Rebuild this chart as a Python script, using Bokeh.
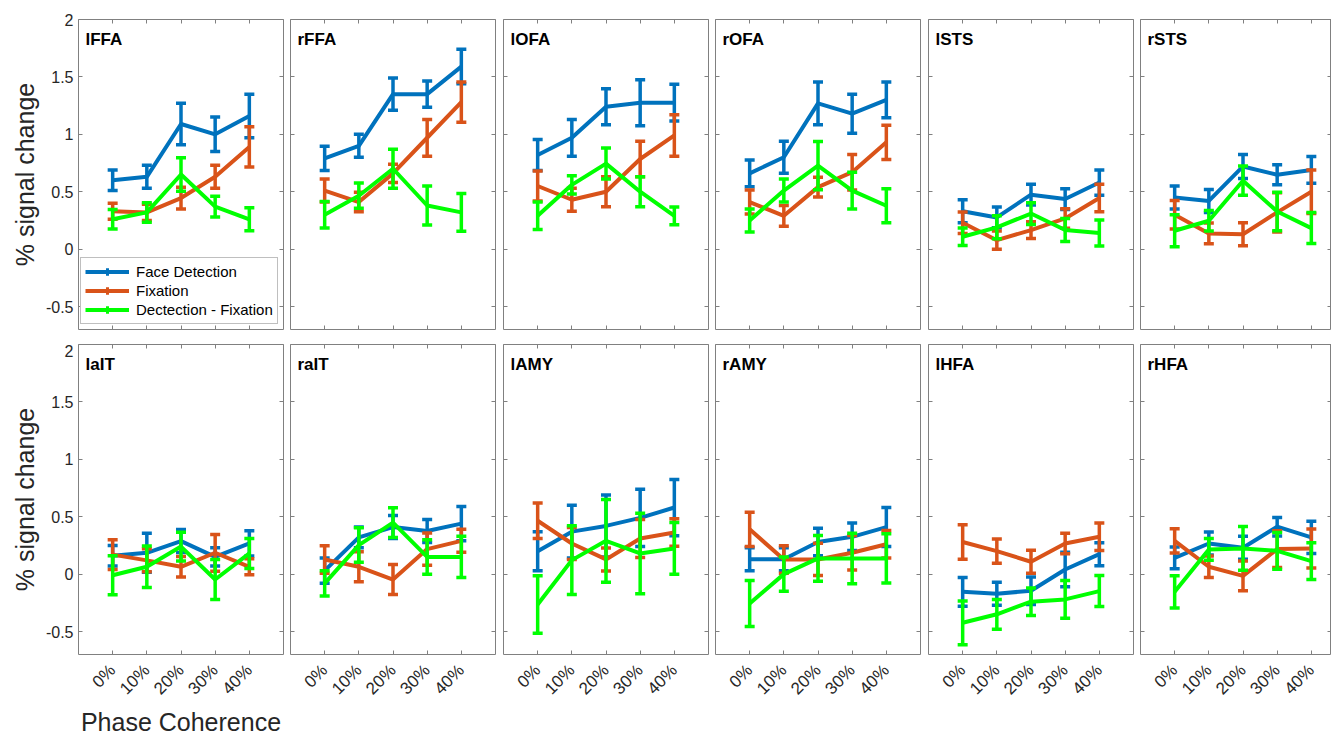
import math
import numpy as np
from bokeh.plotting import figure
from bokeh.layouts import row, column
from bokeh.models import (ColumnDataSource, Range1d, FixedTicker, Label, Legend,
                          LegendItem, LinearAxis)
from bokeh.embed import file_html
from bokeh.resources import INLINE

# ---------------- data ----------------
regions = ["lFFA", "rFFA", "lOFA", "rOFA", "lSTS", "rSTS",
           "laIT", "raIT", "lAMY", "rAMY", "lHFA", "rHFA"]
coherence = ["0%", "10%", "20%", "30%", "40%"]
coherence_pos = [1, 2, 3, 4, 5]
series_names = ["Face Detection", "Fixation", "Dectection - Fixation"]
ytick_vals = [-0.5, 0, 0.5, 1, 1.5, 2]
ytick_labels = ["-0.5", "0", "0.5", "1", "1.5", "2"]

face_mean = [
    [0.60, 0.63, 1.09, 1.00, 1.16],
    [0.79, 0.90, 1.35, 1.35, 1.59],
    [0.82, 0.97, 1.24, 1.275, 1.275],
    [0.66, 0.80, 1.27, 1.18, 1.30],
    [0.33, 0.276, 0.474, 0.436, 0.58],
    [0.45, 0.42, 0.72, 0.648, 0.69],
    [0.16, 0.186, 0.288, 0.15, 0.267],
    [0.03, 0.32, 0.41, 0.375, 0.44],
    [0.20, 0.37, 0.42, 0.49, 0.58],
    [0.13, 0.13, 0.28, 0.325, 0.41],
    [-0.154, -0.17, -0.145, 0.04, 0.174],
    [0.142, 0.267, 0.23, 0.413, 0.32],
]
face_sem = [
    [0.09, 0.10, 0.18, 0.15, 0.19],
    [0.105, 0.10, 0.14, 0.115, 0.15],
    [0.135, 0.16, 0.157, 0.20, 0.16],
    [0.116, 0.14, 0.186, 0.17, 0.155],
    [0.10, 0.09, 0.09, 0.09, 0.11],
    [0.10, 0.10, 0.105, 0.087, 0.117],
    [0.09, 0.17, 0.10, 0.08, 0.11],
    [0.11, 0.09, 0.10, 0.10, 0.15],
    [0.17, 0.23, 0.27, 0.25, 0.245],
    [0.10, 0.10, 0.12, 0.12, 0.17],
    [0.125, 0.10, 0.12, 0.15, 0.10],
    [0.095, 0.10, 0.10, 0.08, 0.14],
]
fix_mean = [
    [0.33, 0.32, 0.445, 0.63, 0.89],
    [0.51, 0.41, 0.66, 0.97, 1.28],
    [0.55, 0.43, 0.50, 0.785, 0.99],
    [0.41, 0.29, 0.54, 0.67, 0.93],
    [0.23, 0.078, 0.166, 0.267, 0.445],
    [0.30, 0.137, 0.13, 0.32, 0.50],
    [0.17, 0.12, 0.064, 0.186, 0.064],
    [0.128, 0.064, -0.047, 0.218, 0.29],
    [0.465, 0.267, 0.128, 0.31, 0.363],
    [0.39, 0.128, 0.128, 0.186, 0.26],
    [0.28, 0.20, 0.108, 0.267, 0.325],
    [0.29, 0.064, -0.015, 0.218, 0.224],
]
fix_sem = [
    [0.07, 0.07, 0.095, 0.10, 0.175],
    [0.10, 0.085, 0.08, 0.16, 0.175],
    [0.13, 0.10, 0.13, 0.155, 0.18],
    [0.105, 0.09, 0.085, 0.155, 0.15],
    [0.093, 0.08, 0.073, 0.085, 0.12],
    [0.124, 0.09, 0.10, 0.17, 0.19],
    [0.13, 0.10, 0.09, 0.16, 0.07],
    [0.12, 0.13, 0.13, 0.14, 0.10],
    [0.155, 0.14, 0.10, 0.165, 0.12],
    [0.15, 0.12, 0.14, 0.15, 0.12],
    [0.15, 0.105, 0.10, 0.09, 0.12],
    [0.105, 0.093, 0.13, 0.16, 0.17],
]
diff_mean = [
    [0.26, 0.32, 0.65, 0.37, 0.26],
    [0.30, 0.465, 0.70, 0.38, 0.32],
    [0.29, 0.56, 0.745, 0.50, 0.29],
    [0.25, 0.51, 0.727, 0.51, 0.378],
    [0.108, 0.19, 0.31, 0.166, 0.14],
    [0.16, 0.247, 0.596, 0.328, 0.183],
    [-0.01, 0.064, 0.24, -0.047, 0.18],
    [-0.08, 0.253, 0.448, 0.15, 0.15],
    [-0.265, 0.122, 0.29, 0.18, 0.224],
    [-0.256, 0.0, 0.137, 0.137, 0.137],
    [-0.424, -0.35, -0.24, -0.22, -0.148],
    [-0.154, 0.215, 0.224, 0.203, 0.113],
]
diff_sem = [
    [0.085, 0.085, 0.145, 0.09, 0.10],
    [0.115, 0.11, 0.17, 0.17, 0.165],
    [0.12, 0.08, 0.135, 0.13, 0.077],
    [0.10, 0.10, 0.21, 0.16, 0.148],
    [0.077, 0.10, 0.095, 0.10, 0.113],
    [0.14, 0.09, 0.127, 0.167, 0.135],
    [0.17, 0.18, 0.125, 0.175, 0.13],
    [0.11, 0.15, 0.13, 0.15, 0.18],
    [0.25, 0.30, 0.36, 0.35, 0.225],
    [0.20, 0.15, 0.20, 0.22, 0.215],
    [0.19, 0.13, 0.12, 0.165, 0.135],
    [0.14, 0.095, 0.19, 0.16, 0.16],
]

# ---------------- style ----------------
colors = ["#0072BD", "#D95319", "#00FF00"]
FONT = "Liberation Sans"
AXIS_COLOR = "#808080"
TEXT_COLOR = "#262626"
FRAME_W = 205
FRAME_H = 310
X_PER_UNIT = FRAME_W / 6.0
gaps = [7, 8, 7, 8, 7]
LEFT0 = 78
TOTAL_W = 1331

series = [(face_mean, face_sem), (fix_mean, fix_sem), (diff_mean, diff_sem)]


def style_axis(ax, ticks, show_labels, font_size="16px"):
    ax.axis_line_color = None
    if show_labels:
        ax.ticker = FixedTicker(ticks=ticks)
        ax.major_tick_in = 4
        ax.major_tick_out = 0
        ax.major_tick_line_color = AXIS_COLOR
        ax.major_tick_line_width = 1
        ax.minor_tick_line_color = None
        ax.major_label_text_font = FONT
        ax.major_label_text_font_size = font_size
        ax.major_label_text_color = TEXT_COLOR
    else:
        # ticks only, no labels: use minor ticks (which carry no labels)
        ax.ticker = FixedTicker(ticks=[], minor_ticks=ticks)
        ax.major_tick_line_color = None
        ax.minor_tick_in = 4
        ax.minor_tick_out = 0
        ax.minor_tick_line_color = AXIS_COLOR
        ax.minor_tick_line_width = 1
        ax.major_label_standoff = 0


figs = []
x_cursor = 0
for idx, name in enumerate(regions):
    r, c = divmod(idx, 6)
    left_b = LEFT0 if c == 0 else 4
    if c < 5:
        right_b = gaps[c] - 4
        fw = FRAME_W
    else:
        right_b = 0
        fw = TOTAL_W - x_cursor - left_b
    x_cursor += left_b + fw + right_b
    if c == 5:
        x_cursor = 0
    xmax = fw / X_PER_UNIT
    p = figure(frame_width=fw, frame_height=FRAME_H,
               x_range=Range1d(0, xmax), y_range=Range1d(-0.7, 2),
               output_backend="svg", toolbar_location=None,
               min_border_left=left_b, min_border_right=right_b,
               min_border_top=19 if r == 0 else 0,
               min_border_bottom=15 if r == 0 else 79)
    p.xgrid.visible = False
    p.ygrid.visible = False
    p.outline_line_color = AXIS_COLOR
    p.outline_line_width = 1
    p.background_fill_color = "white"
    p.border_fill_color = "white"

    # axes on all four sides, ticks pointing inward
    bx = p.xaxis[0]
    style_axis(bx, coherence_pos, r == 1, "17px")
    if r == 1:
        bx.major_label_overrides = {k: v for k, v in zip(coherence_pos, coherence)}
        bx.major_label_orientation = math.pi / 4
        bx.major_label_standoff = 13
    ly = p.yaxis[0]
    style_axis(ly, ytick_vals, c == 0, "16px")
    if c == 0:
        ly.major_label_overrides = {k: v for k, v in zip(ytick_vals, ytick_labels)}
        ly.major_label_standoff = 5
        ly.axis_label = "% signal change"
        ly.axis_label_text_font = FONT
        ly.axis_label_text_font_size = "25px"
        ly.axis_label_text_font_style = "normal"
        ly.axis_label_text_color = TEXT_COLOR
        ly.axis_label_standoff = 4
    if r == 1 and c == 0:
        bx.axis_label = "Phase Coherence"
        bx.axis_label_text_font = FONT
        bx.axis_label_text_font_size = "25px"
        bx.axis_label_text_font_style = "normal"
        bx.axis_label_text_color = TEXT_COLOR
        bx.axis_label_standoff = 0
    top_ax = LinearAxis()
    style_axis(top_ax, coherence_pos, False)
    p.add_layout(top_ax, "above")
    right_ax = LinearAxis()
    style_axis(right_ax, ytick_vals, False)
    p.add_layout(right_ax, "right")

    legend_items = []
    for k, (mean_tab, sem_tab) in enumerate(series):
        m = np.array(mean_tab[idx], dtype=float)
        s = np.array(sem_tab[idx], dtype=float)
        src = ColumnDataSource(dict(x=coherence_pos, y=m, lo=m - s, hi=m + s))
        col = colors[k]
        ln = p.line("x", "y", source=src, line_color=col, line_width=4,
                    line_join="round")
        p.segment(x0="x", y0="lo", x1="x", y1="hi", source=src,
                  line_color=col, line_width=3.5)
        p.scatter("x", "hi", source=src, marker="dash", size=10,
                  line_color=col, line_width=3.5)
        p.scatter("x", "lo", source=src, marker="dash", size=10,
                  line_color=col, line_width=3.5)
        cr = p.scatter("x", "y", source=src, marker="cross", size=0,
                       line_color=col, line_width=3)
        legend_items.append(LegendItem(label=series_names[k], renderers=[ln, cr]))

    p.add_layout(Label(x=0, y=2, x_offset=7, y_offset=-10, text=name,
                       text_font=FONT, text_font_style="bold",
                       text_font_size="17px", text_baseline="top",
                       text_color="black"))

    if idx == 0:
        leg = Legend(items=legend_items, location=(2, 5),
                     label_text_font=FONT, label_text_font_size="15px",
                     label_text_color="black",
                     glyph_width=44, glyph_height=19, label_height=19,
                     spacing=0, padding=4, label_standoff=7, margin=0,
                     border_line_color=AXIS_COLOR, border_line_width=1,
                     background_fill_color="white", background_fill_alpha=1)
        p.add_layout(leg)
    figs.append(p)

layout = column(row(figs[:6], spacing=0), row(figs[6:], spacing=0), spacing=0)
open("out.html", "w").write(file_html(layout, INLINE, title="Phase coherence"))
